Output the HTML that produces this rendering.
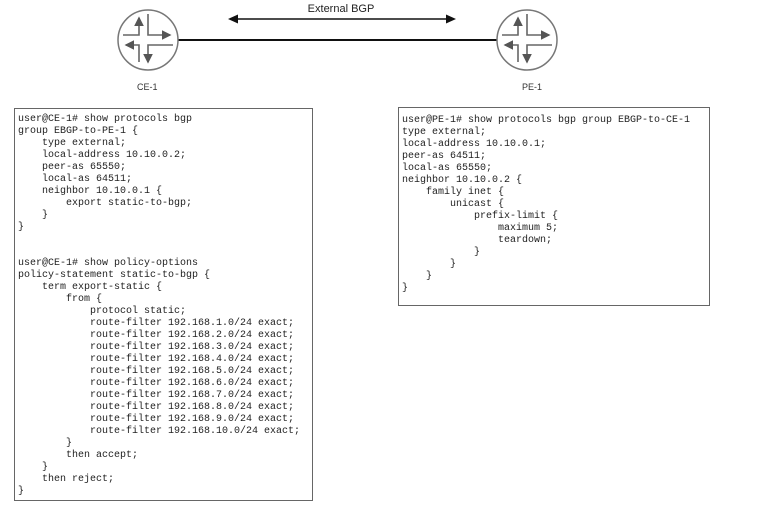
<!DOCTYPE html>
<html><head><meta charset="utf-8"><style>
body{margin:0;background:#fff;width:766px;height:508px;position:relative;overflow:hidden;font-family:"Liberation Sans",sans-serif}
.box{position:absolute;border:1.5px solid #666;background:#fff}
pre{margin:0;position:absolute;font-family:"Liberation Mono",monospace;font-size:10px;color:#222}
.lbl{position:absolute;font-size:9px;color:#333}
</style></head><body>
<svg width="766" height="100" style="position:absolute;left:0;top:0">
<defs>
<marker id="a" markerWidth="6" markerHeight="6" refX="5" refY="3" orient="auto"><path d="M0,0L6,3L0,6z" fill="#555"/></marker>
<g id="r" fill="none" stroke="#666" stroke-width="1.6">
<circle cx="0" cy="0" r="30" stroke="#777" stroke-width="1.5"/>
<path d="M-25,-5H-9V-22" marker-end="url(#a)"/>
<path d="M0,-26V-5H22" marker-end="url(#a)"/>
<path d="M-9,22V5H-22" marker-end="url(#a)"/>
<path d="M25,5H0V22" marker-end="url(#a)"/>
</g>
</defs>
<line x1="178" y1="40" x2="497" y2="40" stroke="#111" stroke-width="2"/>
<line x1="236" y1="19" x2="447" y2="19" stroke="#111" stroke-width="1.5"/>
<path d="M228,19l10,-4.5v9z" fill="#111"/>
<path d="M456,19l-10,-4.5v9z" fill="#111"/>
<use href="#r" x="148" y="40"/>
<use href="#r" x="527" y="40"/>
<text x="341" y="12" font-size="11" text-anchor="middle" fill="#222" font-family="Liberation Sans">External BGP</text>
</svg>
<div class="lbl" style="left:137px;top:82px">CE-1</div>
<div class="lbl" style="left:522px;top:82px">PE-1</div>
<div class="box" style="left:14px;top:108px;width:297px;height:391px"></div>
<pre style="left:18px;top:114px;line-height:12px">user@CE-1# show protocols bgp
group EBGP-to-PE-1 {
    type external;
    local-address 10.10.0.2;
    peer-as 65550;
    local-as 64511;
    neighbor 10.10.0.1 {
        export static-to-bgp;
    }
}


user@CE-1# show policy-options
policy-statement static-to-bgp {
    term export-static {
        from {
            protocol static;
            route-filter 192.168.1.0/24 exact;
            route-filter 192.168.2.0/24 exact;
            route-filter 192.168.3.0/24 exact;
            route-filter 192.168.4.0/24 exact;
            route-filter 192.168.5.0/24 exact;
            route-filter 192.168.6.0/24 exact;
            route-filter 192.168.7.0/24 exact;
            route-filter 192.168.8.0/24 exact;
            route-filter 192.168.9.0/24 exact;
            route-filter 192.168.10.0/24 exact;
        }
        then accept;
    }
    then reject;
}</pre>
<div class="box" style="left:398px;top:107px;width:310px;height:197px"></div>
<pre style="left:402px;top:115px;line-height:12px">user@PE-1# show protocols bgp group EBGP-to-CE-1
type external;
local-address 10.10.0.1;
peer-as 64511;
local-as 65550;
neighbor 10.10.0.2 {
    family inet {
        unicast {
            prefix-limit {
                maximum 5;
                teardown;
            }
        }
    }
}</pre>
</body></html>
